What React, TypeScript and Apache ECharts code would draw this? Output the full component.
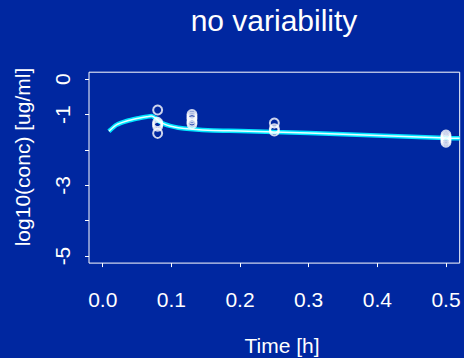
import React, { useEffect, useRef } from "react";
import * as echarts from "echarts";

const titleText = "no variability";
const xTitle = "Time [h]";
const yTitle = "log10(conc) [ug/ml]";

const xTicks = [0, 0.1, 0.2, 0.3, 0.4, 0.5];
const yTicks = [0, -1, -2, -3, -4, -5];
const yLabels = [0, -1, -3, -5];

const predTime = [0.009, 0.02, 0.035, 0.05, 0.064, 0.071, 0.077, 0.083, 0.09, 0.098, 0.11, 0.127, 0.161, 0.2, 0.25, 0.3, 0.4, 0.5, 0.52];
const predConc = [-1.47, -1.29, -1.18, -1.11, -1.06, -1.04, -1.1, -1.2, -1.27, -1.32, -1.37, -1.41, -1.45, -1.46, -1.49, -1.52, -1.59, -1.66, -1.67];

const obsTime = [0.08, 0.08, 0.08, 0.08, 0.08, 0.13, 0.13, 0.13, 0.13, 0.13, 0.25, 0.25, 0.25, 0.5, 0.5, 0.5, 0.5, 0.5];
const obsConc = [-0.87, -1.22, -1.27, -1.33, -1.53, -1.0, -1.06, -1.12, -1.2, -1.26, -1.24, -1.4, -1.46, -1.58, -1.63, -1.68, -1.73, -1.78];

const BG = "#0027a0";
const FONT = "'Liberation Sans', Arial, sans-serif";

export default function App() {
  const ref = useRef<HTMLDivElement>(null);
  useEffect(() => {
    if (!ref.current) return;
    const chart = echarts.init(ref.current, undefined, { renderer: "svg" });
    const line = predTime.map((t, i) => [t, predConc[i]]);
    const pts = obsTime.map((t, i) => [t, obsConc[i]]);
    chart.setOption({
      animation: false,
      backgroundColor: BG,
      grid: {
        left: 89,
        right: 4.3,
        top: 72.2,
        bottom: 94.9,
        show: true,
        borderColor: "#ffffff",
        borderWidth: 1,
        backgroundColor: "transparent",
      },
      xAxis: {
        type: "value",
        min: -0.02,
        max: 0.52,
        position: "bottom",
        splitLine: { show: false },
        axisLine: { show: false, onZero: false },
        axisTick: { show: true, inside: false, customValues: xTicks, length: 4, lineStyle: { color: "#fff", width: 1 } },
        axisLabel: {
          customValues: xTicks,
          formatter: (v: number) => v.toFixed(1),
          color: "#fff",
          fontSize: 21,
          fontFamily: FONT,
          margin: 26,
        },
      },
      yAxis: {
        type: "value",
        min: -5.2,
        max: 0.2,
        position: "left",
        splitLine: { show: false },
        axisLine: { show: false, onZero: false },
        axisTick: { show: true, inside: false, customValues: yTicks, length: 4, lineStyle: { color: "#fff", width: 1 } },
        axisLabel: {
          customValues: yLabels,
          rotate: 90,
          formatter: (v: number) => String(v),
          color: "#fff",
          fontSize: 21,
          fontFamily: FONT,
          margin: 16,
        },
      },
      graphic: [
        {
          type: "text",
          x: 274,
          y: 20,
          style: { text: titleText, fill: "#fff", font: `30px ${FONT}`, textAlign: "center", textVerticalAlign: "middle" },
        },
        {
          type: "text",
          x: 282,
          y: 345,
          style: { text: xTitle, fill: "#fff", font: `21px ${FONT}`, textAlign: "center", textVerticalAlign: "middle" },
        },
        {
          type: "text",
          x: 22,
          y: 157,
          rotation: Math.PI / 2,
          style: { text: yTitle, fill: "#fff", font: `21px ${FONT}`, textAlign: "center", textVerticalAlign: "middle" },
        },
      ],
      series: [
        {
          type: "line",
          data: line,
          smooth: 0.2,
          showSymbol: false,
          symbol: "none",
          lineStyle: { color: "#00e5ff", width: 4.5 },
          z: 2,
        },
        {
          type: "line",
          data: line,
          smooth: 0.2,
          showSymbol: false,
          symbol: "none",
          lineStyle: { color: "#e8ffff", width: 1.5 },
          z: 3,
        },
        {
          type: "scatter",
          data: pts,
          symbol: "circle",
          symbolSize: 9,
          itemStyle: { color: "transparent", borderColor: "#ffffff", borderWidth: 2 },
          z: 4,
        },
      ],
    });
    return () => chart.dispose();
  }, []);
  return <div ref={ref} style={{ position: "fixed", left: 0, top: 0, width: 464, height: 358 }} />;
}
